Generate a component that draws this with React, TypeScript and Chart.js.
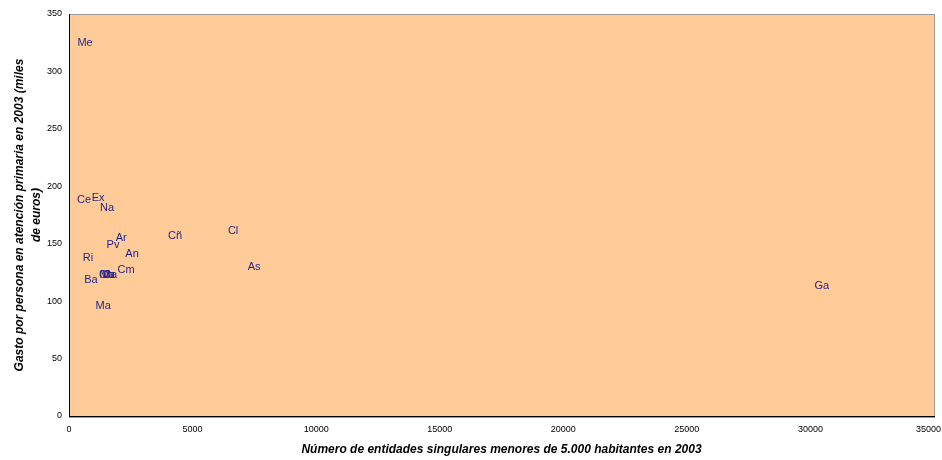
import React, { useEffect, useRef } from "react";
import { Chart, registerables } from "chart.js";

Chart.register(...registerables);

const regionLabels = ["Me", "Ce", "Ex", "Na", "Ar", "Pv", "An", "Ri", "Cm", "Ba", "Cn", "Mu", "Va", "Ca", "Ma", "Cñ", "Cl", "As", "Ga"];
const entidades = [650, 610, 1180, 1540, 2110, 1780, 2550, 770, 2310, 890, 1500, 1540, 1600, 1660, 1380, 4290, 6640, 7490, 30460];
const gasto = [325, 188, 190, 181, 155, 149, 141, 138, 127, 118, 123, 123, 123, 123, 96, 157, 161, 130, 113];

const xTitle = "Número de entidades singulares menores de 5.000 habitantes en 2003";
const yTitleLines = ["Gasto por persona en atención primaria en 2003 (miles", "de euros)"];

const FONT = "'Liberation Sans', Arial, sans-serif";

const plotPlugin = {
  id: "plotDecor",
  beforeDraw(chart: any) {
    const { ctx, chartArea } = chart;
    ctx.save();
    ctx.fillStyle = "#FFCC99";
    ctx.fillRect(chartArea.left, chartArea.top, chartArea.right - chartArea.left, chartArea.bottom - chartArea.top);
    ctx.strokeStyle = "#999999";
    ctx.lineWidth = 1;
    ctx.strokeRect(chartArea.left + 0.5, chartArea.top + 0.5, chartArea.right - chartArea.left, chartArea.bottom - chartArea.top + 1);
    ctx.restore();
  },
  afterDatasetsDraw(chart: any) {
    const { ctx } = chart;
    const meta = chart.getDatasetMeta(0);
    ctx.save();
    ctx.font = `11px ${FONT}`;
    ctx.fillStyle = "#1f1f8c";
    ctx.textAlign = "center";
    ctx.textBaseline = "middle";
    meta.data.forEach((pt: any, i: number) => {
      ctx.fillText(regionLabels[i], pt.x, pt.y);
    });
    ctx.restore();
  },
  afterDraw(chart: any) {
    const { ctx, chartArea, width } = chart;
    const xs = chart.scales.x;
    ctx.save();
    // x tick labels, kept inside the canvas
    ctx.fillStyle = "#000000";
    ctx.font = `9px ${FONT}`;
    ctx.textAlign = "center";
    ctx.textBaseline = "middle";
    xs.ticks.forEach((t: any) => {
      const label = String(t.value);
      const w = ctx.measureText(label).width;
      let px = xs.getPixelForValue(t.value);
      px = Math.min(px, width - 1 - w / 2);
      ctx.fillText(label, px, chartArea.bottom + 14);
    });
    ctx.font = `bold italic 12px ${FONT}`;
    ctx.fillText(xTitle, (chartArea.left + chartArea.right) / 2, 450);
    const cy = (chartArea.top + chartArea.bottom) / 2;
    ctx.translate(20, cy);
    ctx.rotate(-Math.PI / 2);
    ctx.fillText(yTitleLines[0], 0, 0);
    ctx.fillText(yTitleLines[1], 0, 17);
    ctx.restore();
  },
};

export default function App() {
  const canvasRef = useRef<HTMLCanvasElement>(null);

  useEffect(() => {
    if (!canvasRef.current) return;
    const chart = new Chart(canvasRef.current, {
      type: "scatter",
      data: {
        datasets: [
          {
            data: entidades.map((x, i) => ({ x, y: gasto[i] })),
            pointRadius: 0,
            pointHoverRadius: 0,
          },
        ],
      },
      options: {
        animation: false,
        responsive: false,
        maintainAspectRatio: false,
        layout: { padding: { top: 14, right: 8, left: 0, bottom: 0 } },
        plugins: { legend: { display: false }, tooltip: { enabled: false } },
        scales: {
          x: {
            type: "linear",
            min: 0,
            max: 35000,
            grid: { display: false, drawTicks: false },
            border: { display: true, color: "#000000", width: 1 },
            ticks: {
              display: false,
              stepSize: 5000,
              callback: (v: any) => String(v),
            },
            afterFit: (scale: any) => {
              scale.height = 44;
              scale.paddingLeft = 0;
              scale.paddingRight = 0;
            },
          },
          y: {
            type: "linear",
            min: 0,
            max: 350,
            grid: { display: false, drawTicks: false },
            border: { display: true, color: "#000000", width: 1 },
            ticks: {
              stepSize: 50,
              padding: 7,
              color: "#000000",
              font: { family: FONT, size: 9 },
              callback: (v: any) => String(v),
            },
            afterFit: (scale: any) => {
              scale.width = 69;
              scale.paddingTop = 0;
              scale.paddingBottom = 0;
            },
          },
        },
      },
      plugins: [plotPlugin],
    });
    return () => chart.destroy();
  }, []);

  return (
    <div style={{ position: "fixed", left: 0, top: 0, width: 942, height: 460, background: "#ffffff" }}>
      <canvas ref={canvasRef} width={942} height={460} style={{ display: "block" }} />
    </div>
  );
}
